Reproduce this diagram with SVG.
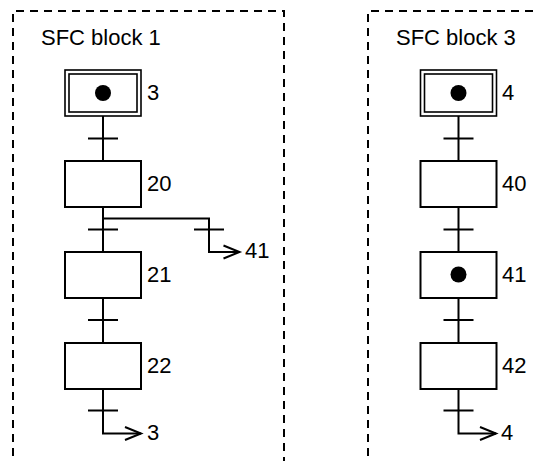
<svg xmlns="http://www.w3.org/2000/svg" width="539" height="461" viewBox="0 0 539 461">
<defs>
<style>
.frame{fill:none;stroke:#000;stroke-width:2;stroke-dasharray:8 6}
.box{fill:#fff;stroke:#000;stroke-width:2}
.ibox{fill:#fff;stroke:#000;stroke-width:1.6}
.ln{fill:none;stroke:#000;stroke-width:2}
.dot{fill:#000}
text{font-family:"Liberation Sans",Arial,sans-serif;font-size:22px;fill:#000}
</style>
<marker id="arr" markerUnits="userSpaceOnUse" markerWidth="20" markerHeight="18" refX="17" refY="8" orient="auto" viewBox="0 0 20 18">
<path d="M1,1.5 L17,8 L1,14.5" fill="none" stroke="#000" stroke-width="2"/>
</marker>
</defs>
<g id="block1">
<path class="frame" d="M13,470 V11 H284 V470"/>
<text x="41" y="45">SFC block 1</text>
</g>
<g id="block3">
<path class="frame" d="M368,470 V11 H545"/>
<text x="396" y="45">SFC block 3</text>
</g>
<g id="connectors">
<path class="ln" d="M103,116 V161 M103,207 V252 M103,298 V343"/>
<path class="ln" d="M103,389 V433.5 H141" marker-end="url(#arr)"/>
<path class="ln" d="M103,218.5 H209 V252 H239.5" marker-end="url(#arr)"/>
<path class="ln" d="M88,138.5 H118 M88,229.5 H118 M194,229.5 H224 M88,320 H118 M88,410.5 H118"/>
<path class="ln" d="M458.5,116 V161 M458.5,207 V252 M458.5,298 V343"/>
<path class="ln" d="M458.5,389 V433.5 H496" marker-end="url(#arr)"/>
<path class="ln" d="M443.5,138.5 H473.5 M443.5,229.5 H473.5 M443.5,320 H473.5 M443.5,410.5 H473.5"/>
</g>
<g id="step3">
<rect class="ibox" x="65" y="70" width="76" height="46"/>
<rect class="ibox" x="69" y="74" width="68" height="38"/>
<circle class="dot" cx="103" cy="93" r="8"/>
<text x="147" y="100">3</text>
</g>
<g id="step20">
<rect class="box" x="65" y="161" width="76" height="46"/>
<text x="147" y="191">20</text>
</g>
<g id="step21">
<rect class="box" x="65" y="252" width="76" height="46"/>
<text x="147" y="282">21</text>
</g>
<g id="step22">
<rect class="box" x="65" y="343" width="76" height="46"/>
<text x="147" y="373">22</text>
</g>
<g id="jump41">
<text x="245" y="258">41</text>
</g>
<g id="jump3">
<text x="147" y="440">3</text>
</g>
<g id="step4">
<rect class="ibox" x="420.5" y="70" width="76" height="46"/>
<rect class="ibox" x="424.5" y="74" width="68" height="38"/>
<circle class="dot" cx="458.5" cy="93" r="8"/>
<text x="502" y="100">4</text>
</g>
<g id="step40">
<rect class="box" x="420.5" y="161" width="76" height="46"/>
<text x="502" y="191">40</text>
</g>
<g id="step41">
<rect class="box" x="420.5" y="252" width="76" height="46"/>
<circle class="dot" cx="458.5" cy="274.5" r="8"/>
<text x="502" y="282">41</text>
</g>
<g id="step42">
<rect class="box" x="420.5" y="343" width="76" height="46"/>
<text x="502" y="373">42</text>
</g>
<g id="jump4">
<text x="501" y="440">4</text>
</g>
</svg>
